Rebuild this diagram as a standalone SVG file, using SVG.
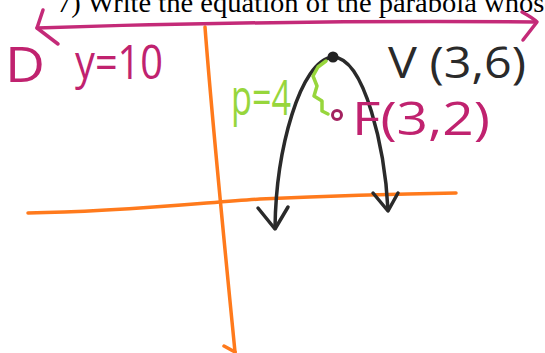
<svg xmlns="http://www.w3.org/2000/svg" width="545" height="353" viewBox="0 0 545 353">
<style>
.hand{font-family:"Open Sans","Noto Sans","DejaVu Sans",sans-serif;font-weight:400;}
.mag{fill:#c0226f;}
.blk{fill:#2a2a2a;}
.grn{fill:#97d63c;}
.ln{fill:none;stroke-linecap:round;stroke-linejoin:round;}
.orange{stroke:#ff7a1c;stroke-width:3.5;}
.magl{stroke:#c42a78;stroke-width:3.5;}
.blkl{stroke:#2a2a2a;stroke-width:3.5;}
.grnl{stroke:#97d63c;stroke-width:3.5;}
</style>
<rect width="545" height="353" fill="#ffffff"/>
<text x="57" y="12" font-family="Liberation Serif, serif" font-size="28" fill="#000" textLength="500" lengthAdjust="spacingAndGlyphs">7) Write the equation of the parabola whose</text>
<g id="axes">
<path class="ln orange" d="M205,27 C212,120 225,250 235,352"/>
<path class="ln orange" d="M224,346 L235,352"/>
<path class="ln orange" d="M28,213 C120,212 200,203 260,199 C330,196 400,194 456,193"/>
</g>
<g id="directrix">
<path class="ln magl" d="M37,28 Q280,20 536,22"/>
<path class="ln magl" d="M43,10 L37,28 L58,44"/>
<path class="ln magl" d="M522,12 Q533,18 537,22 L523,40"/>
<text class="hand mag" x="5" y="82" font-size="50" textLength="40" lengthAdjust="spacingAndGlyphs">D</text>
<text class="hand mag" x="75" y="79" font-size="48" textLength="88" lengthAdjust="spacingAndGlyphs">y=10</text>
</g>
<g id="connectors">
<path class="ln blkl" d="M275,228 C276,150 300,60 333,57 C365,58 385,150 388,210"/>
<path class="ln blkl" d="M258,208 L275,229 L288,207"/>
<path class="ln blkl" d="M373,193 L388,211 L398,193"/>
</g>
<g id="vertex">
<circle cx="333" cy="57" r="5.5" fill="#222"/>
<text class="hand blk" x="388" y="78" font-size="44" textLength="138" lengthAdjust="spacingAndGlyphs">V (3,6)</text>
</g>
<g id="focus">
<circle cx="337" cy="115" r="4.5" fill="none" stroke="#a3215f" stroke-width="3"/>
<text class="hand mag" x="352" y="135" font-size="46" textLength="138" lengthAdjust="spacingAndGlyphs">F(3,2)</text>
</g>
<g id="p-label">
<path class="ln grnl" d="M326,61 L318,67 L313,76 L317,86 L314,96 L322,101 L322,111 L328,114"/>
<text class="hand grn" x="231" y="115" font-size="50" textLength="60" lengthAdjust="spacingAndGlyphs">p=4</text>
</g>
</svg>
